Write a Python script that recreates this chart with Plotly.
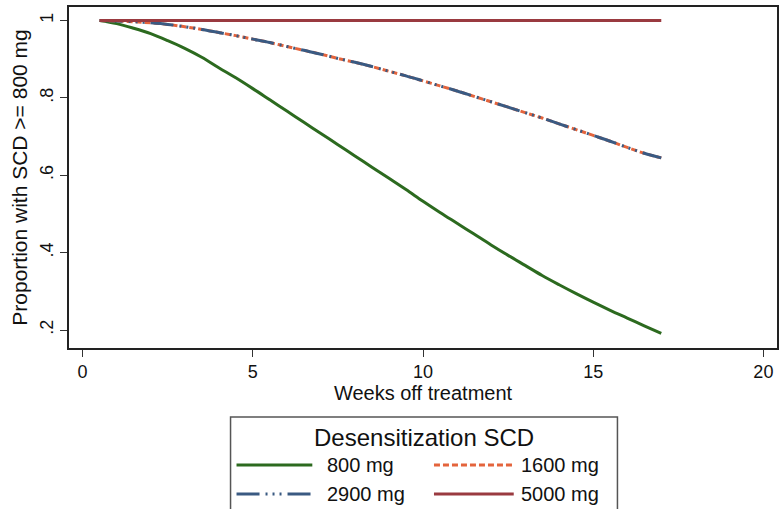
import plotly.graph_objects as go

# Weeks off treatment at which the predicted proportions are evaluated
weeks = [0.5, 1.0, 1.5, 2.0, 2.5, 3.0, 3.5, 4.0, 4.5, 5.0, 5.5, 6.0, 6.5, 7.0,
         7.5, 8.0, 8.5, 9.0, 9.5, 10.0, 10.5, 11.0, 11.5, 12.0, 12.5, 13.0,
         13.5, 14.0, 14.5, 15.0, 15.5, 16.0, 16.5, 17.0]

# Proportion with SCD >= 800 mg, by desensitization SCD
scd_800 = [1.000, 0.992, 0.980, 0.966, 0.948, 0.928, 0.905, 0.878, 0.852, 0.824,
           0.795, 0.766, 0.737, 0.708, 0.679, 0.650, 0.621, 0.592, 0.563, 0.533,
           0.504, 0.476, 0.448, 0.420, 0.393, 0.367, 0.341, 0.317, 0.294, 0.272,
           0.251, 0.231, 0.211, 0.191]
scd_1600 = [1.000, 0.999, 0.997, 0.994, 0.990, 0.984, 0.977, 0.969, 0.961, 0.952,
            0.943, 0.933, 0.923, 0.913, 0.902, 0.892, 0.881, 0.869, 0.857, 0.844,
            0.831, 0.818, 0.804, 0.790, 0.776, 0.762, 0.748, 0.733, 0.718, 0.703,
            0.688, 0.672, 0.657, 0.645]
scd_2900 = [1.000, 0.999, 0.997, 0.994, 0.990, 0.984, 0.977, 0.969, 0.961, 0.952,
            0.943, 0.933, 0.923, 0.913, 0.902, 0.892, 0.881, 0.869, 0.857, 0.844,
            0.831, 0.818, 0.804, 0.790, 0.776, 0.762, 0.748, 0.733, 0.718, 0.703,
            0.688, 0.672, 0.657, 0.645]
scd_5000 = [1.000] * len(weeks)

series_names = ["800 mg", "1600 mg", "2900 mg", "5000 mg"]
x_ticks = [0, 5, 10, 15, 20]
y_ticks = [0.2, 0.4, 0.6, 0.8, 1.0]
y_tick_text = [".2", ".4", ".6", ".8", "1"]

colors = {"800 mg": "#2c6a1f", "1600 mg": "#e4643c",
          "2900 mg": "#3a5a82", "5000 mg": "#9a3a40"}
dashes = {"800 mg": "solid", "1600 mg": "6px,3px",
          "2900 mg": "23px,6px,2px,5px,2px,5px,2px,6px", "5000 mg": "solid"}
values = {"800 mg": scd_800, "1600 mg": scd_1600,
          "2900 mg": scd_2900, "5000 mg": scd_5000}

FONT = "Liberation Sans, Arial, Helvetica, sans-serif"
W, H = 780, 509
ML, MR, MT, MB = 69, 1, 7, 161
PW, PH = W - ML - MR, H - MT - MB

fig = go.Figure()
for name in series_names:
    fig.add_trace(go.Scatter(
        x=weeks, y=values[name], mode="lines", name=name,
        line=dict(color=colors[name], width=3, dash=dashes[name], shape="spline"),
        showlegend=False,
    ))


def px_x(px):
    return (px - ML) / PW


def px_y(py):
    return (H - MB - py) / PH


# Legend box drawn below the plot
shapes = [dict(type="rect", xref="paper", yref="paper",
               x0=px_x(231), x1=px_x(619), y0=px_y(520), y1=px_y(417),
               line=dict(color="#555555", width=1.5), fillcolor="white")]
annotations = [dict(text="Desensitization SCD", xref="paper", yref="paper",
                    x=px_x(425), y=px_y(437), showarrow=False,
                    xanchor="center", yanchor="middle",
                    font=dict(family=FONT, size=24, color="#111111"))]
slots = [(237, 313, 326, 465), (435, 515, 520, 465),
         (237, 313, 326, 494), (435, 515, 520, 494)]
for name, (sx0, sx1, tx, ty) in zip(series_names, slots):
    shapes.append(dict(type="line", xref="paper", yref="paper",
                       x0=px_x(sx0), x1=px_x(sx1), y0=px_y(ty), y1=px_y(ty),
                       line=dict(color=colors[name], width=3, dash=dashes[name])))
    annotations.append(dict(text=name, xref="paper", yref="paper",
                            x=px_x(tx), y=px_y(ty), showarrow=False,
                            xanchor="left", yanchor="middle",
                            font=dict(family=FONT, size=20, color="#111111")))

fig.update_layout(
    width=W, height=H,
    margin=dict(l=ML, r=MR, t=MT, b=MB),
    paper_bgcolor="white", plot_bgcolor="white",
    font=dict(family=FONT, color="#111111"),
    shapes=shapes, annotations=annotations,
    showlegend=False,
)
fig.update_xaxes(
    range=[-0.4, 20.4], tickvals=x_ticks, ticktext=[str(t) for t in x_ticks],
    showgrid=False, zeroline=False,
    showline=True, mirror=True, linecolor="#222222", linewidth=1.5,
    ticks="outside", ticklen=7, tickwidth=1, tickcolor="#333333",
    tickfont=dict(family=FONT, size=18, color="#111111"),
    title=dict(text="Weeks off treatment", standoff=4,
               font=dict(family=FONT, size=20, color="#111111")),
)
fig.update_yaxes(
    range=[0.1535, 1.035], tickvals=y_ticks, ticktext=y_tick_text,
    tickangle=-90, showgrid=False, zeroline=False,
    showline=True, mirror=True, linecolor="#222222", linewidth=1.5,
    ticks="outside", ticklen=7, tickwidth=1, tickcolor="#333333",
    tickfont=dict(family=FONT, size=18, color="#111111"),
    title=dict(text="Proportion with SCD >= 800 mg", standoff=4,
               font=dict(family=FONT, size=21, color="#111111")),
)

fig.write_html("out.html")
